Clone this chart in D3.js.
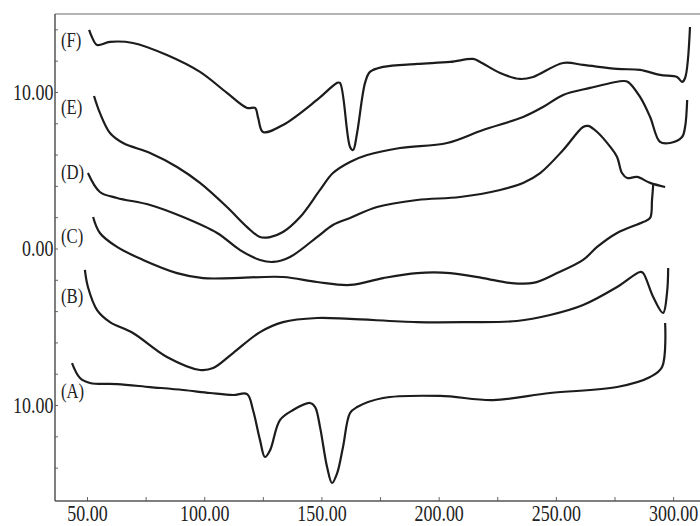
<!DOCTYPE html>
<html>
<head>
<meta charset="utf-8">
<script src="https://cdn.jsdelivr.net/npm/d3@7"></script>
<style>
  body { margin: 0; background: #fff; }
  text { font-family: 'Liberation Serif', 'Times New Roman', serif; }
</style>
</head>
<body>
<div id="chart"></div>
<script>
// Thermogram traces: [temperature, signal]
const curveA = [[43.6,-7.32],[47.0,-8.27],[51.3,-8.59],[62.8,-8.66],[76.9,-8.85],[91.0,-9.04],[102.5,-9.23],
  [112.3,-9.36],[118.3,-9.30],[120.8,-10.32],[123.8,-12.24],[125.9,-13.32],[128.1,-12.88],[132.3,-10.96],
  [137.9,-10.32],[145.1,-9.87],[147.3,-10.13],[149.4,-11.41],[152.4,-13.96],[154.5,-14.98],[156.7,-14.35],
  [159.2,-12.68],[162.2,-10.51],[165.2,-10.13],[176.3,-9.55],[200.6,-9.42],[223.2,-9.68],[247.5,-9.23],
  [276.1,-8.85],[290.2,-8.21],[295.3,-7.57],[296.6,-4.76]];

const curveB = [[49.1,-1.37],[50.4,-2.46],[54.3,-3.93],[59.8,-4.70],[69.6,-5.40],[84.1,-6.93],[98.2,-7.76],
  [103.8,-7.64],[112.3,-6.68],[123.8,-5.34],[133.6,-4.70],[148.1,-4.44],[162.2,-4.50],[190.8,-4.70],
  [212.1,-4.70],[233.4,-4.63],[247.5,-4.25],[261.6,-3.61],[276.1,-2.46],[285.9,-1.50],[287.2,-1.57],
  [291.5,-3.10],[295.7,-4.12],[297.4,-2.84],[297.9,-1.25]];

const curveC = [[52.6,2.01],[55.5,0.99],[62.8,0.10],[73.9,-0.73],[88.4,-1.57],[99.5,-1.89],[112.3,-1.89],
  [133.6,-1.82],[148.1,-2.14],[162.2,-2.33],[176.3,-1.89],[190.8,-1.57],[204.9,-1.57],[218.9,-1.89],
  [230.5,-2.20],[240.3,-2.20],[250.5,-1.57],[261.6,-0.73],[267.6,0.10],[276.1,0.99],[287.2,1.69],
  [290.2,1.95],[291.0,3.10],[291.5,4.06]];

const curveD = [[50.4,4.82],[55.5,3.61],[62.8,3.23],[76.9,2.78],[91.0,2.01],[105.5,0.99],[115.3,-0.10],
  [123.8,-0.73],[129.4,-0.86],[136.6,-0.54],[148.1,0.73],[154.9,1.50],[162.2,1.95],[173.7,2.65],
  [190.8,3.10],[209.1,3.29],[226.2,3.74],[236.0,4.19],[243.3,4.82],[253.1,6.29],[261.6,7.76],
  [263.8,7.83],[267.6,7.44],[273.2,6.49],[276.1,5.85],[278.2,4.82],[280.4,4.50],[284.6,4.57],
  [290.2,4.19],[296.6,3.93]];

const curveE = [[53.0,9.74],[55.5,8.66],[59.8,7.38],[65.4,6.74],[76.9,6.10],[88.4,5.21],[98.2,4.19],
  [109.7,2.65],[118.3,1.37],[123.8,0.73],[128.1,0.73],[133.6,1.05],[140.9,2.01],[149.4,3.74],
  [154.9,4.82],[162.2,5.53],[169.5,5.97],[183.5,6.42],[203.6,6.74],[218.9,7.57],[236.0,8.40],
  [244.5,9.04],[253.1,9.81],[264.6,10.26],[278.7,10.70],[280.8,10.64],[285.9,9.68],[290.2,8.40],
  [294.4,6.81],[298.7,6.74],[303.8,7.12],[305.1,7.76],[306.0,9.49]];

const curveF = [[50.9,13.96],[52.1,13.51],[54.3,13.00],[59.8,13.20],[69.6,13.13],[84.1,12.36],[98.2,11.28],
  [109.7,9.94],[118.3,8.98],[121.7,8.98],[123.0,8.34],[125.1,7.44],[133.6,7.89],[148.1,9.49],
  [156.7,10.58],[157.9,10.58],[162.2,6.49],[163.5,6.29],[165.2,7.38],[168.6,10.58],[170.7,11.28],
  [176.3,11.60],[190.8,11.79],[204.9,11.92],[214.7,12.11],[217.7,11.92],[226.2,11.21],[234.7,10.83],
  [240.3,10.96],[253.1,11.85],[261.6,11.73],[276.1,11.47],[285.9,11.41],[294.4,11.09],[301.7,10.96],
  [303.8,10.64],[305.1,10.89],[307.2,14.15]];

const curves = [curveA, curveB, curveC, curveD, curveE, curveF];
const curveNames = ["(A)", "(B)", "(C)", "(D)", "(E)", "(F)"];
// signal level where each name sits at the left edge
const labelLevels = [-9.11, -3.04, 0.80, 4.89, 9.04, 13.32];

const xTicks = d3.range(50, 301, 25);
const yTicks = d3.range(-14, 15, 2);
const yLabelled = [10, 0, -10];

// Set up dimensions
const width = 700;
const height = 526;
const plotLeft = 55, plotTop = 14, plotBottom = 501;

const svg = d3.select("#chart")
    .append("svg")
    .attr("width", width)
    .attr("height", height);

svg.append("rect").attr("width", width).attr("height", height).attr("fill", "#fff");

// Scales
const x = d3.scaleLinear().domain([36.35, 320]).range([plotLeft, 720]);
const y = d3.scaleLinear().domain([-16.13, 14.98]).range([plotBottom, plotTop]);

// Frame: light top border, dark left and bottom axes
svg.append("line")
    .attr("x1", plotLeft).attr("x2", width)
    .attr("y1", plotTop).attr("y2", plotTop)
    .attr("stroke", "#b4b4b4").attr("stroke-width", 2);

// X axis
const xAxis = svg.append("g")
    .attr("transform", `translate(0,${plotBottom})`)
    .call(d3.axisBottom(x)
        .tickValues(xTicks)
        .tickSize(-4)
        .tickPadding(4)
        .tickFormat(d => d % 50 === 0 ? d.toFixed(2) : ""));
xAxis.attr("font-family", null);
xAxis.select(".domain").remove();
xAxis.append("line")
    .attr("x1", plotLeft).attr("x2", width)
    .attr("stroke", "#555").attr("stroke-width", 1.5);
xAxis.selectAll(".tick line").attr("stroke", "#666");
xAxis.selectAll(".tick text")
    .attr("fill", "#222")
    .style("font-size", "23px")
    .attr("transform", "scale(0.78,1)");

// Y axis
const yAxis = svg.append("g")
    .attr("transform", `translate(${plotLeft},0)`)
    .call(d3.axisLeft(y)
        .tickValues(yTicks)
        .tickSize(-3)
        .tickPadding(2)
        .tickFormat(d => yLabelled.includes(d) ? Math.abs(d).toFixed(2) : ""));
yAxis.attr("font-family", null);
yAxis.select(".domain").remove();
yAxis.append("line")
    .attr("y1", plotTop).attr("y2", plotBottom)
    .attr("stroke", "#555").attr("stroke-width", 1.5);
yAxis.selectAll(".tick line").attr("stroke", "#666");
yAxis.selectAll(".tick text")
    .attr("fill", "#222")
    .style("font-size", "23px")
    .attr("transform", "scale(0.78,1)");

// Curves
const line = d3.line()
    .x(d => x(d[0]))
    .y(d => y(d[1]))
    .curve(d3.curveCatmullRom.alpha(0.5));

svg.append("g")
    .selectAll("path")
    .data(curves)
    .join("path")
    .attr("d", line)
    .attr("fill", "none")
    .attr("stroke", "#1c1c1c")
    .attr("stroke-width", 2.2)
    .attr("stroke-linejoin", "round");

// Curve names
svg.append("g")
    .selectAll("text")
    .data(curveNames)
    .join("text")
    .attr("transform", (d, i) => `translate(${plotLeft + 6},${y(labelLevels[i]) + 7}) scale(0.76,1)`)
    .attr("fill", "#222")
    .style("font-size", "22px")
    .text(d => d);
</script>
</body>
</html>
